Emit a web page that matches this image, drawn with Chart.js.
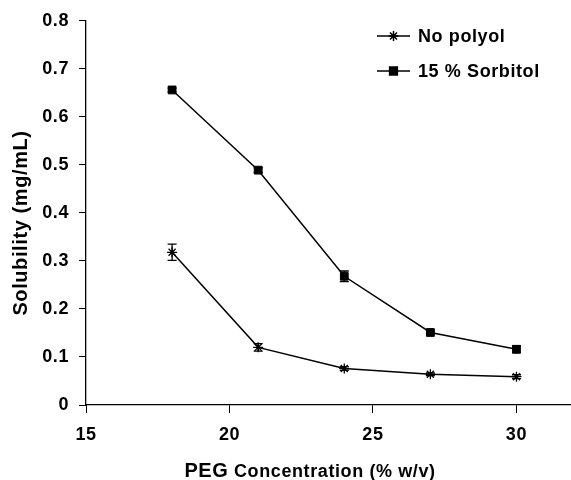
<!DOCTYPE html>
<html>
<head>
<meta charset="utf-8">
<script src="https://cdn.jsdelivr.net/npm/chart.js@4/dist/chart.umd.min.js"></script>
<style>
  html, body { margin: 0; padding: 0; background: #fff; }
  #wrap { width: 571px; height: 480px; }
</style>
</head>
<body>
<div id="wrap"><canvas id="solChart"></canvas></div>
<script>
// PEG concentration (% w/v)
var pegConc = [18, 21, 24, 27, 30];
// solubility values (mg/mL)
var noPolyol = [0.318, 0.120, 0.076, 0.064, 0.059];
var noPolyolErr = [0.017, 0.008, 0.004, 0.003, 0.004];
var sorbitol = [0.656, 0.489, 0.268, 0.151, 0.116];
var sorbitolErr = [0.004, 0.005, 0.011, 0.003, 0.007];
var xTicks = [15, 20, 25, 30];
var yTicks = [0, 0.1, 0.2, 0.3, 0.4, 0.5, 0.6, 0.7, 0.8];
var seriesNames = ["No polyol", "15 % Sorbitol"];

var FONT = '"Liberation Sans", Arial, sans-serif';

function toPoints(xs, ys) {
    return xs.map(function (x, i) { return { x: x, y: ys[i] }; });
}

var errors = [noPolyolErr, sorbitolErr];

// a bit of letter spacing like the original export
var spacing = {
    id: 'spacing',
    beforeDraw: function (chart) { chart.ctx.letterSpacing = '0.6px'; }
};

// error bars drawn from the data arrays through the scales
var errorBars = {
    id: 'errorBars',
    afterDatasetsDraw: function (chart) {
        var ctx = chart.ctx;
        var xs = chart.scales.x, ys = chart.scales.y;
        ctx.save();
        ctx.strokeStyle = '#000';
        ctx.lineWidth = 1.3;
        chart.data.datasets.forEach(function (ds, di) {
            ds.data.forEach(function (p, i) {
                var e = errors[di][i];
                var px = xs.getPixelForValue(p.x);
                var top = ys.getPixelForValue(p.y + e);
                var bot = ys.getPixelForValue(p.y - e);
                ctx.beginPath();
                ctx.moveTo(px, top); ctx.lineTo(px, bot);
                ctx.moveTo(px - 4.5, top); ctx.lineTo(px + 4.5, top);
                ctx.moveTo(px - 4.5, bot); ctx.lineTo(px + 4.5, bot);
                ctx.stroke();
            });
        });
        ctx.restore();
    }
};

// legend inside the plot, plus both axis titles
var lineLegend = {
    id: 'lineLegend',
    afterDraw: function (chart) {
        var ctx = chart.ctx;
        ctx.save();
        chart.data.datasets.forEach(function (ds, i) {
            var y = 36 + i * 35;
            ctx.strokeStyle = '#000';
            ctx.lineWidth = 1.5;
            ctx.beginPath();
            ctx.moveTo(377, y); ctx.lineTo(410, y);
            ctx.stroke();
            Chart.helpers.drawPoint(ctx, {
                pointStyle: ds.pointStyle,
                radius: ds.pointRadius,
                borderWidth: ds.pointBorderWidth
            }, 393.5, y);
            ctx.fillStyle = '#000';
            ctx.font = 'bold 18px ' + FONT;
            ctx.textBaseline = 'middle';
            ctx.fillText(ds.label, 418, y + 1);
        });
        // x axis title, "PEG" a little larger
        var a = 'PEG', b = ' Concentration (% w/v)';
        ctx.font = 'bold 20px ' + FONT;
        var wa = ctx.measureText(a).width;
        ctx.font = 'bold 18px ' + FONT;
        var wb = ctx.measureText(b).width;
        var x0 = 310 - (wa + wb) / 2;
        ctx.textBaseline = 'alphabetic';
        ctx.font = 'bold 20px ' + FONT;
        ctx.fillText(a, x0, 477);
        ctx.font = 'bold 18px ' + FONT;
        ctx.fillText(b, x0 + wa, 477);
        // y axis title
        ctx.translate(21, 223);
        ctx.rotate(-Math.PI / 2);
        ctx.font = 'bold 20px ' + FONT;
        ctx.textAlign = 'center';
        ctx.textBaseline = 'middle';
        ctx.fillText('Solubility (mg/mL)', 0, 0);
        ctx.restore();
    }
};

var ctx = document.getElementById('solChart');
var chart = new Chart(ctx, {
    type: 'line',
    data: {
        datasets: [{
            label: seriesNames[0],
            data: toPoints(pegConc, noPolyol),
            borderColor: '#000',
            backgroundColor: '#000',
            borderWidth: 1.5,
            pointStyle: 'star',
            pointRadius: 5,
            pointBorderWidth: 1.3,
            pointBorderColor: '#000',
            pointBackgroundColor: '#000',
            tension: 0
        }, {
            label: seriesNames[1],
            data: toPoints(pegConc, sorbitol),
            borderColor: '#000',
            backgroundColor: '#000',
            borderWidth: 1.5,
            pointStyle: 'rect',
            pointRadius: 5.5,
            pointBorderWidth: 1,
            pointBorderColor: '#000',
            pointBackgroundColor: '#000',
            tension: 0
        }]
    },
    options: {
        responsive: true,
        maintainAspectRatio: false,
        animation: false,
        layout: { autoPadding: false, padding: { top: 20, right: 0, left: 0, bottom: 0 } },
        plugins: {
            legend: { display: false },
            tooltip: { enabled: false }
        },
        scales: {
            x: {
                type: 'linear',
                min: 15,
                max: 31.9,
                afterBuildTicks: function (s) { s.ticks = xTicks.map(function (v) { return { value: v }; }); },
                afterFit: function (s) { s.height = 75; s.paddingLeft = 0; s.paddingRight = 0; },
                grid: { drawOnChartArea: false, drawTicks: true, tickLength: 8, color: '#000' },
                border: { display: true, color: '#000', width: 1.3 },
                ticks: {
                    color: '#000',
                    padding: 11,
                    maxRotation: 0,
                    font: { family: FONT, size: 18, weight: 'bold' }
                },
                title: { display: false }
            },
            y: {
                min: 0,
                max: 0.8,
                afterBuildTicks: function (s) { s.ticks = yTicks.map(function (v) { return { value: v }; }); },
                afterFit: function (s) { s.width = 86; },
                grid: { drawOnChartArea: false, drawTicks: true, tickLength: 7, color: '#000' },
                border: { display: true, color: '#000', width: 1.3 },
                ticks: {
                    color: '#000',
                    padding: 10,
                    callback: function (v) { return v === 0 ? '0' : v.toFixed(1); },
                    font: { family: FONT, size: 18, weight: 'bold' }
                },
                title: { display: false }
            }
        }
    },
    plugins: [spacing, errorBars, lineLegend]
});
</script>
</body>
</html>
